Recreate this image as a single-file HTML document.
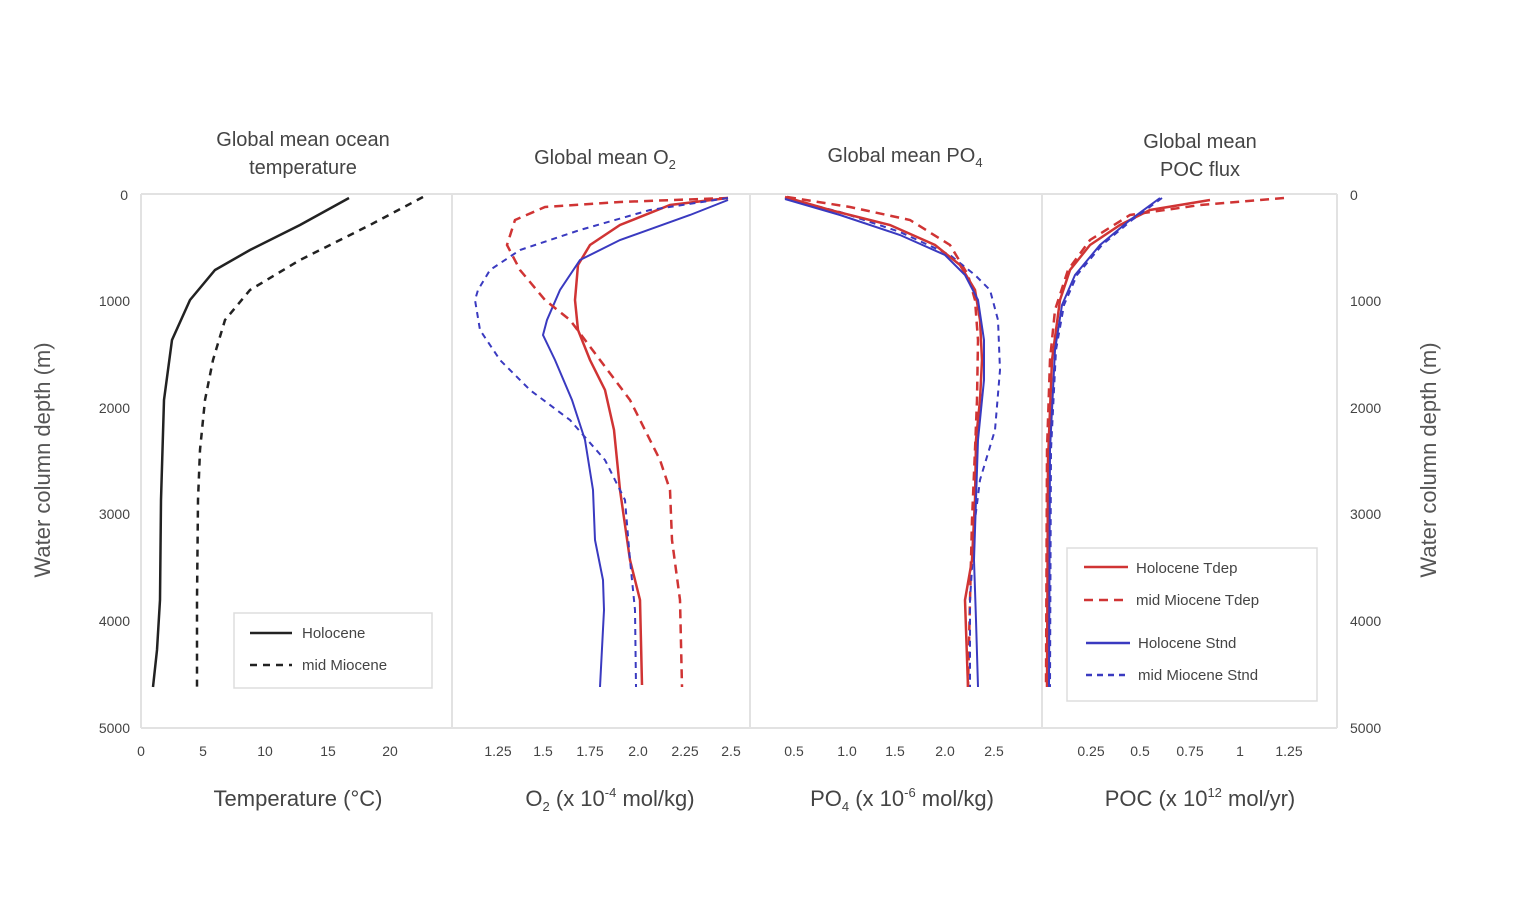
<!DOCTYPE html>
<html><head><meta charset="utf-8"><style>
html,body{margin:0;padding:0;background:#fff}
svg{display:block}
text{font-family:"Liberation Sans","DejaVu Sans",sans-serif;fill:#444}
.t{font-size:14px;fill:#666}
.ti{font-size:20px;fill:#333}
.ax{font-size:22px;fill:#555}
.g{stroke:#e2e2e2;stroke-width:2;fill:none}
</style></head><body>
<svg width="1532" height="898" viewBox="0 0 1532 898" xmlns="http://www.w3.org/2000/svg">
<rect width="1532" height="898" fill="#fff"/>
<line x1="141" y1="194" x2="1337" y2="194" class="g"/>
<line x1="141" y1="728" x2="1337" y2="728" class="g"/>
<line x1="141" y1="194" x2="141" y2="728" class="g"/>
<line x1="452" y1="194" x2="452" y2="728" class="g"/>
<line x1="750" y1="194" x2="750" y2="728" class="g"/>
<line x1="1042" y1="194" x2="1042" y2="728" class="g"/>
<line x1="1337" y1="194" x2="1337" y2="728" class="g"/>
<g class="t" text-anchor="end">
<text x="128" y="200">0</text><text x="130" y="306">1000</text><text x="130" y="413">2000</text><text x="130" y="519">3000</text><text x="130" y="626">4000</text><text x="130" y="733">5000</text>
</g>
<g class="t" text-anchor="start">
<text x="1350" y="200">0</text><text x="1350" y="306">1000</text><text x="1350" y="413">2000</text><text x="1350" y="519">3000</text><text x="1350" y="626">4000</text><text x="1350" y="733">5000</text>
</g>
<text class="ax" transform="translate(50,460) rotate(-90)" text-anchor="middle">Water column depth (m)</text>
<text class="ax" transform="translate(1436,460) rotate(-90)" text-anchor="middle">Water column depth (m)</text>
<g class="t" text-anchor="middle">
<text x="141" y="756">0</text><text x="203" y="756">5</text><text x="265" y="756">10</text><text x="328" y="756">15</text><text x="390" y="756">20</text>
<text x="498" y="756">1.25</text><text x="543" y="756">1.5</text><text x="590" y="756">1.75</text><text x="638" y="756">2.0</text><text x="685" y="756">2.25</text><text x="731" y="756">2.5</text>
<text x="794" y="756">0.5</text><text x="847" y="756">1.0</text><text x="895" y="756">1.5</text><text x="945" y="756">2.0</text><text x="994" y="756">2.5</text>
<text x="1091" y="756">0.25</text><text x="1140" y="756">0.5</text><text x="1190" y="756">0.75</text><text x="1240" y="756">1</text><text x="1289" y="756">1.25</text>
</g>
<g class="ax" text-anchor="middle">
<text x="298" y="806">Temperature (°C)</text>
<text x="610" y="806">O<tspan font-size="13" dy="5">2</tspan><tspan dy="-5"> (x 10</tspan><tspan font-size="13" dy="-9">-4</tspan><tspan dy="9"> mol/kg)</tspan></text>
<text x="902" y="806">PO<tspan font-size="13" dy="5">4</tspan><tspan dy="-5"> (x 10</tspan><tspan font-size="13" dy="-9">-6</tspan><tspan dy="9"> mol/kg)</tspan></text>
<text x="1200" y="806">POC (x 10<tspan font-size="13" dy="-9">12</tspan><tspan dy="9"> mol/yr)</tspan></text>
</g>
<g class="ti" text-anchor="middle">
<text x="303" y="146">Global mean ocean</text>
<text x="303" y="174">temperature</text>
<text x="605" y="164">Global mean O<tspan font-size="13" dy="5">2</tspan></text>
<text x="905" y="162">Global mean PO<tspan font-size="13" dy="5">4</tspan></text>
<text x="1200" y="148">Global mean</text>
<text x="1200" y="176">POC flux</text>
</g>
<polyline fill="none" stroke="#222" stroke-width="2.5" points="349,198 300,225 250,250 215,270 190,300 172,340 164,400 161,500 160,600 157,650 153,687"/>
<polyline fill="none" stroke="#222" stroke-width="2.5" stroke-dasharray="7,6" points="423,197 370,225 300,260 250,290 225,320 213,360 205,400 200,450 198,500 197,600 197,687"/>
<rect x="234" y="613" width="198" height="75" fill="#fff" stroke="#ddd" stroke-width="1.5"/>
<line x1="250" y1="633" x2="292" y2="633" stroke="#222" stroke-width="2.5"/>
<line x1="250" y1="665" x2="292" y2="665" stroke="#222" stroke-width="2.5" stroke-dasharray="7,6"/>
<text x="302" y="638" font-size="15">Holocene</text>
<text x="302" y="670" font-size="15">mid Miocene</text>
<polyline fill="none" stroke="#d03434" stroke-width="2.5" points="728,198 670,205 620,225 590,245 578,265 575,300 578,330 590,360 605,390 614,430 620,490 630,560 640,600 642,685"/>
<polyline fill="none" stroke="#3a3ac0" stroke-width="2" points="728,200 690,215 620,240 580,260 560,290 547,320 543,335 555,360 572,400 585,440 593,490 595,540 603,580 604,610 600,687"/>
<polyline fill="none" stroke="#d03434" stroke-width="2.5" stroke-dasharray="9,6" points="728,198 620,202 545,207 515,220 507,245 520,270 545,300 570,320 600,360 630,400 660,460 670,490 672,540 680,600 682,687"/>
<polyline fill="none" stroke="#3a3ac0" stroke-width="2" stroke-dasharray="6,5" points="728,198 650,210 580,230 520,250 490,270 478,290 475,300 480,330 500,360 530,390 570,420 605,460 625,500 630,560 635,610 636,687"/>
<polyline fill="none" stroke="#d03434" stroke-width="2.5" stroke-dasharray="9,6" points="787,197 850,207 910,220 950,245 968,275 975,300 978,340 977,400 975,450 972,520 970,600 968,687"/>
<polyline fill="none" stroke="#3a3ac0" stroke-width="2" stroke-dasharray="6,5" points="785,198 840,212 900,232 950,255 975,275 990,290 998,320 1000,370 995,430 980,480 975,520 970,600 970,687"/>
<polyline fill="none" stroke="#d03434" stroke-width="2.5" points="785,197 830,210 890,225 935,245 960,265 975,290 980,320 982,360 980,400 976,440 975,500 972,560 965,600 968,687"/>
<polyline fill="none" stroke="#3a3ac0" stroke-width="2" points="785,199 840,215 900,235 945,255 965,275 978,300 984,340 984,380 978,440 976,500 974,560 976,620 978,687"/>
<polyline fill="none" stroke="#d03434" stroke-width="2.5" stroke-dasharray="9,6" points="1284,198 1200,205 1130,215 1090,240 1068,270 1055,310 1050,360 1047,450 1046,687"/>
<polyline fill="none" stroke="#d03434" stroke-width="2.5" points="1210,200 1150,210 1120,225 1090,245 1070,270 1060,300 1052,360 1048,460 1047,687"/>
<polyline fill="none" stroke="#3a3ac0" stroke-width="2" points="1160,198 1130,220 1100,245 1075,275 1062,305 1055,350 1050,450 1049,687"/>
<polyline fill="none" stroke="#3a3ac0" stroke-width="2" stroke-dasharray="6,5" points="1162,198 1132,220 1102,245 1077,275 1064,305 1056,350 1051,450 1050,687"/>
<rect x="1067" y="548" width="250" height="153" fill="#fff" stroke="#ddd" stroke-width="1.5"/>
<line x1="1084" y1="567" x2="1128" y2="567" stroke="#d03434" stroke-width="2.5"/>
<line x1="1084" y1="600" x2="1128" y2="600" stroke="#d03434" stroke-width="2.5" stroke-dasharray="9,6"/>
<line x1="1086" y1="643" x2="1130" y2="643" stroke="#3a3ac0" stroke-width="2.5"/>
<line x1="1086" y1="675" x2="1130" y2="675" stroke="#3a3ac0" stroke-width="2.5" stroke-dasharray="6,5"/>
<g font-size="15">
<text x="1136" y="573">Holocene Tdep</text>
<text x="1136" y="605">mid Miocene Tdep</text>
<text x="1138" y="648">Holocene Stnd</text>
<text x="1138" y="680">mid Miocene Stnd</text>
</g>
</svg>
</body></html>
